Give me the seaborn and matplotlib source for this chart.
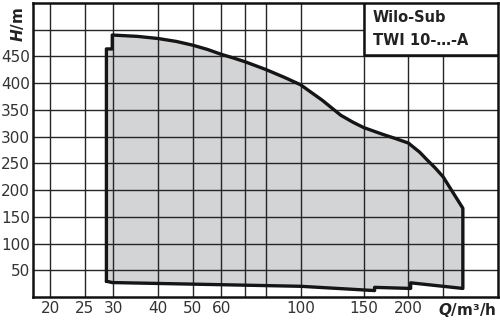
import matplotlib
matplotlib.use("Agg")
import matplotlib.pyplot as plt
import seaborn as sns
import pandas as pd
from matplotlib.patches import Rectangle
from matplotlib.ticker import FixedLocator, NullLocator

# Operating-range outline (Q in m³/h, H in m), traced clockwise
q_outline = [28.7, 28.7, 29.8, 29.8, 35, 40, 45, 50, 55, 60, 65, 70, 80, 90, 100, 115, 129.5, 140, 150,
             170, 183, 200, 215, 226, 238, 250, 265, 284,
             284, 203, 203, 161, 161, 100, 60, 29.8, 28.7]
h_outline = [29.5, 464, 464, 490, 487.5, 483.5, 478, 471, 463, 454, 447, 440, 425.5, 411, 397, 368, 340, 327, 317,
             304, 297, 288, 271, 256, 241, 225, 198, 166,
             16, 26.5, 16, 18, 12, 20, 23, 27, 29.5]

x_grid = [20, 25, 30, 40, 50, 60, 70, 80, 100, 150, 200, 250]
x_ticklabels = [20, 25, 30, 40, 50, 60, 100, 150, 200]
y_grid = [50, 100, 150, 200, 250, 300, 350, 400, 450, 500]
y_ticklabels = [50, 100, 150, 200, 250, 300, 350, 400, 450]

title_lines = ["Wilo-Sub", "TWI 10-…-A"]

sns.set_style("white")
plt.rcParams["font.family"] = ["DejaVu Sans"]

fig = plt.figure(figsize=(5.0, 3.21), dpi=100)
ax = fig.add_axes([0.066, 0.0748, 0.93, 0.916])

df = pd.DataFrame({"Q": q_outline, "H": h_outline})
ax.fill(df["Q"], df["H"], color="#d3d4d6", zorder=1, lw=0)

ax.set_xscale("log")
ax.set_xlim(17.9, 356)
ax.set_ylim(0, 550)

for xv in x_grid:
    ax.axvline(xv, color="#262626", lw=1.0, zorder=2)
for yv in y_grid:
    ax.axhline(yv, color="#262626", lw=1.0, zorder=2)

sns.lineplot(data=df, x="Q", y="H", sort=False, estimator=None, color="#151515", lw=2.4,
             ax=ax, zorder=3)

ax.xaxis.set_major_locator(FixedLocator(x_ticklabels))
ax.xaxis.set_minor_locator(NullLocator())
ax.set_xticklabels([str(v) for v in x_ticklabels])
ax.set_yticks(y_ticklabels)
ax.set_yticklabels([str(v) for v in y_ticklabels])
ax.tick_params(axis="both", length=0, labelsize=11, colors="#333333")
ax.tick_params(axis="x", pad=3)
ax.tick_params(axis="y", pad=2)
ax.set_xlabel("")
ax.set_ylabel("")

for s in ax.spines.values():
    s.set_color("#111111")
    s.set_linewidth(1.8)

# title box
box = Rectangle((150, 452), 356 - 150, 98, facecolor="white", edgecolor="#111111", lw=1.8, zorder=4)
ax.add_patch(box)
ax.text(0.731, 0.952, title_lines[0], transform=ax.transAxes, fontsize=10.5, fontweight="semibold",
        color="#222222", va="center", ha="left", zorder=5)
ax.text(0.731, 0.874, title_lines[1], transform=ax.transAxes, fontsize=10.5, fontweight="semibold",
        color="#222222", va="center", ha="left", zorder=5)

# axis unit labels
fig.text(0.036, 0.925, "$\\boldsymbol{H}$/m", rotation=90, fontsize=11, fontweight="bold",
         color="#222222", ha="center", va="center")
fig.text(0.935, 0.035, "$\\boldsymbol{Q}$/m³/h", fontsize=11, fontweight="bold",
         color="#222222", ha="center", va="center")

fig.savefig("out.png", dpi=100)
